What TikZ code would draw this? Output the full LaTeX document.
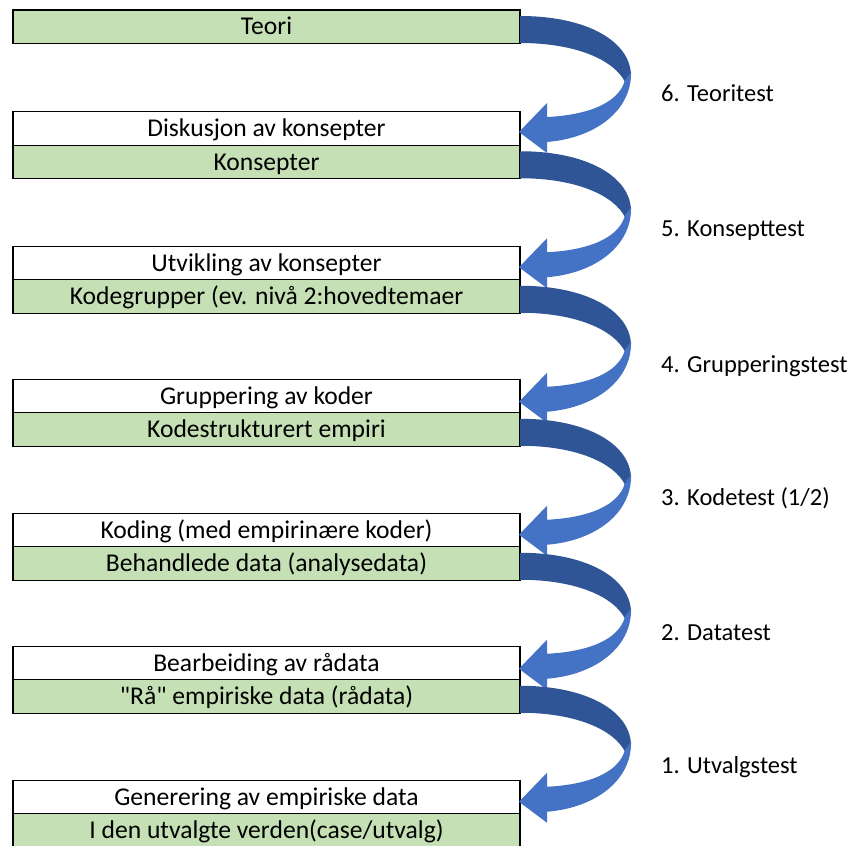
\documentclass[tikz,border=0pt]{standalone}
\usepackage{fontspec}
\setmainfont{Carlito}[Ligatures=TeXOff]
\usetikzlibrary{positioning}

\definecolor{feltgronn}{HTML}{C5E0B4}
\definecolor{pilmork}{HTML}{2F5597}
\definecolor{pillys}{HTML}{4472C4}

\tikzset{
  felt/.style={draw=black, line width=1.3pt, outer sep=0pt, inner sep=0pt,
    minimum width=507pt, minimum height=33.5pt, text height=16.5pt, text depth=0pt,
    font=\fontsize{25.6}{29}\selectfont},
  gronn/.style={felt, fill=feltgronn},
  hvit/.style={felt, fill=white},
  testtekst/.style={anchor=base west, inner sep=0pt, font=\fontsize{24.5}{28}\selectfont}
}

% buet blokkpil ut fra hoyre kant av en gronn boks
\newcommand{\buepil}[1]{%
  \begin{scope}[shift={(#1.north east)}]
    \fill[pilmork] (0,6) .. controls (68,6) and (111,32) .. (111,66)
      -- (105,72) .. controls (94,50) and (56,33) .. (0,33) -- cycle;
    \fill[pillys] (111,62) .. controls (112,100) and (76,128) .. (27,132)
      -- (27,143) -- (-1,122) -- (27,93) -- (27,107)
      .. controls (68,105) and (99,93) .. (105,70) -- cycle;
  \end{scope}}

\begin{document}
\begin{tikzpicture}[x=1pt, y=-1pt]
\clip (0,0) rectangle (853,845);

\node[gronn] (teori) at (266.5,26.75) {Teori};

\node[hvit] (diskusjon) at (266.5,128.5) {Diskusjon av konsepter};
\node[gronn, below=0pt of diskusjon] (konsepter) {Konsepter};

\node[hvit] (utvikling) at (266.5,263) {Utvikling av konsepter};
\node[gronn, below=0pt of utvikling] (kodegrupper) {Kodegrupper (ev. nivå 2:hovedtemaer};

\node[hvit] (gruppering) at (266.5,396) {Gruppering av koder};
\node[gronn, below=0pt of gruppering] (kodestrukt) {Kodestrukturert empiri};

\node[hvit] (koding) at (266.5,530) {Koding (med empirinære koder)};
\node[gronn, below=0pt of koding] (behandlede) {Behandlede data (analysedata)};

\node[hvit] (bearbeiding) at (266.5,663) {Bearbeiding av rådata};
\node[gronn, below=0pt of bearbeiding] (raadata) {"Rå" empiriske data (rådata)};

\node[hvit] (generering) at (266.5,797) {Generering av empiriske data};
\node[gronn, below=0pt of generering] (verden) {I den utvalgte verden(case/utvalg)};

\buepil{teori}
\buepil{konsepter}
\buepil{kodegrupper}
\buepil{kodestrukt}
\buepil{behandlede}
\buepil{raadata}

\node[testtekst] (test6) at (661,102) {6. Teoritest};
\node[testtekst] (test5) at (661,236) {5. Konsepttest};
\node[testtekst] (test4) at (661,372) {4. Grupperingstest};
\node[testtekst] (test3) at (661,505) {3. Kodetest (1/2)};
\node[testtekst] (test2) at (661,640) {2. Datatest};
\node[testtekst] (test1) at (661,773) {1. Utvalgstest};

\end{tikzpicture}
\end{document}
